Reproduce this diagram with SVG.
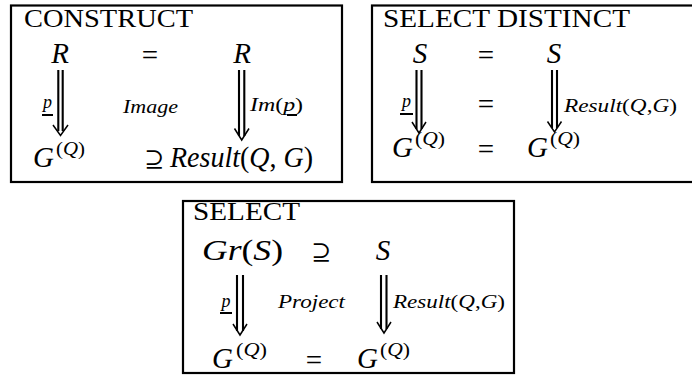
<svg xmlns="http://www.w3.org/2000/svg" width="692" height="376" viewBox="0 0 692 376">
<style>
.it{font-style:italic}
.title{font-size:25px}
.big{font-size:29px}
.sup{font-size:18px}
.sm{font-size:18px}
.box{fill:#fff;stroke:#000;stroke-width:2.2}
.shaft{stroke:#000;stroke-width:2.1;fill:none}
.head{stroke:#000;stroke-width:1.5;fill:none}
.ul{stroke:#000;stroke-width:2}
</style>
<rect width="692" height="376" fill="#fff"/>

<g id="construct">
<rect class="box" x="11" y="5.5" width="331" height="176.5"/>
<text font-family="Liberation Serif" class="title" x="24" y="27" textLength="169" lengthAdjust="spacingAndGlyphs">CONSTRUCT</text>
<text font-family="Liberation Serif" class="big it" x="60" y="63" text-anchor="middle">R</text>
<text font-family="Liberation Serif" class="big" x="150" y="65" text-anchor="middle">=</text>
<text font-family="Liberation Serif" class="big it" x="242" y="63" text-anchor="middle">R</text>
<text font-family="Liberation Serif" class="sm it" x="47.5" y="108" text-anchor="middle">p</text>
<line class="ul" x1="42" y1="115" x2="53" y2="115"/>
<text font-family="Liberation Serif" class="sm it" x="123" y="113" textLength="55" lengthAdjust="spacingAndGlyphs">Image</text>
<text font-family="Liberation Serif" class="sm" x="250" y="111" textLength="53" lengthAdjust="spacingAndGlyphs"><tspan class="it">Im</tspan>(<tspan class="it">p</tspan>)</text>
<line class="ul" x1="287" y1="115" x2="297" y2="115"/>
<text font-family="Liberation Serif" class="big it" x="33" y="167">G</text>
<text font-family="Liberation Serif" class="sup" x="56" y="155" textLength="29" lengthAdjust="spacingAndGlyphs">(<tspan class="it">Q</tspan>)</text>
<text font-family="DejaVu Serif" font-size="24" x="144" y="167">⊇</text>
<text font-family="Liberation Serif" class="big" x="170" y="167" textLength="143" lengthAdjust="spacingAndGlyphs"><tspan class="it">Result</tspan>(<tspan class="it">Q</tspan>, <tspan class="it">G</tspan>)</text>
</g>

<g id="select-distinct">
<rect class="box" x="372" y="5.5" width="330" height="176.5"/>
<text font-family="Liberation Serif" class="title" x="383" y="27" textLength="247" lengthAdjust="spacingAndGlyphs">SELECT DISTINCT</text>
<text font-family="Liberation Serif" class="big it" x="420" y="63" text-anchor="middle">S</text>
<text font-family="Liberation Serif" class="big" x="486" y="65" text-anchor="middle">=</text>
<text font-family="Liberation Serif" class="big it" x="554" y="63" text-anchor="middle">S</text>
<text font-family="Liberation Serif" class="sm it" x="406.5" y="107" text-anchor="middle">p</text>
<line class="ul" x1="400" y1="114" x2="413" y2="114"/>
<text font-family="Liberation Serif" class="big" x="486" y="114" text-anchor="middle">=</text>
<text font-family="Liberation Serif" class="sm" x="564" y="112" textLength="113" lengthAdjust="spacingAndGlyphs"><tspan class="it">Result</tspan>(<tspan class="it">Q</tspan>,<tspan class="it">G</tspan>)</text>
<text font-family="Liberation Serif" class="big it" x="392" y="157">G</text>
<text font-family="Liberation Serif" class="sup" x="415" y="145" textLength="30" lengthAdjust="spacingAndGlyphs">(<tspan class="it">Q</tspan>)</text>
<text font-family="Liberation Serif" class="big" x="486" y="159" text-anchor="middle">=</text>
<text font-family="Liberation Serif" class="big it" x="527" y="157">G</text>
<text font-family="Liberation Serif" class="sup" x="550" y="145" textLength="30" lengthAdjust="spacingAndGlyphs">(<tspan class="it">Q</tspan>)</text>
</g>

<g id="select">
<rect class="box" x="183" y="201" width="331" height="172"/>
<text font-family="Liberation Serif" class="title" x="193" y="220" textLength="107" lengthAdjust="spacingAndGlyphs">SELECT</text>
<text font-family="Liberation Serif" class="big" x="202" y="260" textLength="81" lengthAdjust="spacingAndGlyphs"><tspan class="it">Gr</tspan>(<tspan class="it">S</tspan>)</text>
<text font-family="DejaVu Serif" font-size="24" x="311" y="260">⊇</text>
<text font-family="Liberation Serif" class="big it" x="383" y="260" text-anchor="middle">S</text>
<text font-family="Liberation Serif" class="sm it" x="226" y="307" text-anchor="middle">p</text>
<line class="ul" x1="220" y1="313" x2="232" y2="313"/>
<text font-family="Liberation Serif" class="sm it" x="278" y="308" textLength="67" lengthAdjust="spacingAndGlyphs">Project</text>
<text font-family="Liberation Serif" class="sm" x="393" y="308" textLength="112" lengthAdjust="spacingAndGlyphs"><tspan class="it">Result</tspan>(<tspan class="it">Q</tspan>,<tspan class="it">G</tspan>)</text>
<text font-family="Liberation Serif" class="big it" x="212" y="368">G</text>
<text font-family="Liberation Serif" class="sup" x="236" y="356" textLength="31" lengthAdjust="spacingAndGlyphs">(<tspan class="it">Q</tspan>)</text>
<text font-family="Liberation Serif" class="big" x="314" y="370" text-anchor="middle">=</text>
<text font-family="Liberation Serif" class="big it" x="357" y="368">G</text>
<text font-family="Liberation Serif" class="sup" x="380" y="356" textLength="30" lengthAdjust="spacingAndGlyphs">(<tspan class="it">Q</tspan>)</text>
</g>

<g id="connectors">
<path class="shaft" d="M58.3 70V131M62.7 70V131"/>
<path class="head" d="M53 125L60.5 135.5L68 125"/>
<path class="shaft" d="M239 70V136M244.3 70V136"/>
<path class="head" d="M234.5 128.5L241.7 140L249 128.5"/>
<path class="shaft" d="M416.5 70V129M421.5 70V129"/>
<path class="head" d="M412 122L419 133L426 122"/>
<path class="shaft" d="M552 70V128M557 70V128"/>
<path class="head" d="M547.5 121.5L554.5 132L561.5 121.5"/>
<path class="shaft" d="M237 275V331M243 275V331"/>
<path class="head" d="M233 324L240 335L247 324"/>
<path class="shaft" d="M381 275V329M386.5 275V329"/>
<path class="head" d="M377 322L384 333L391 322"/>
</g>
</svg>
